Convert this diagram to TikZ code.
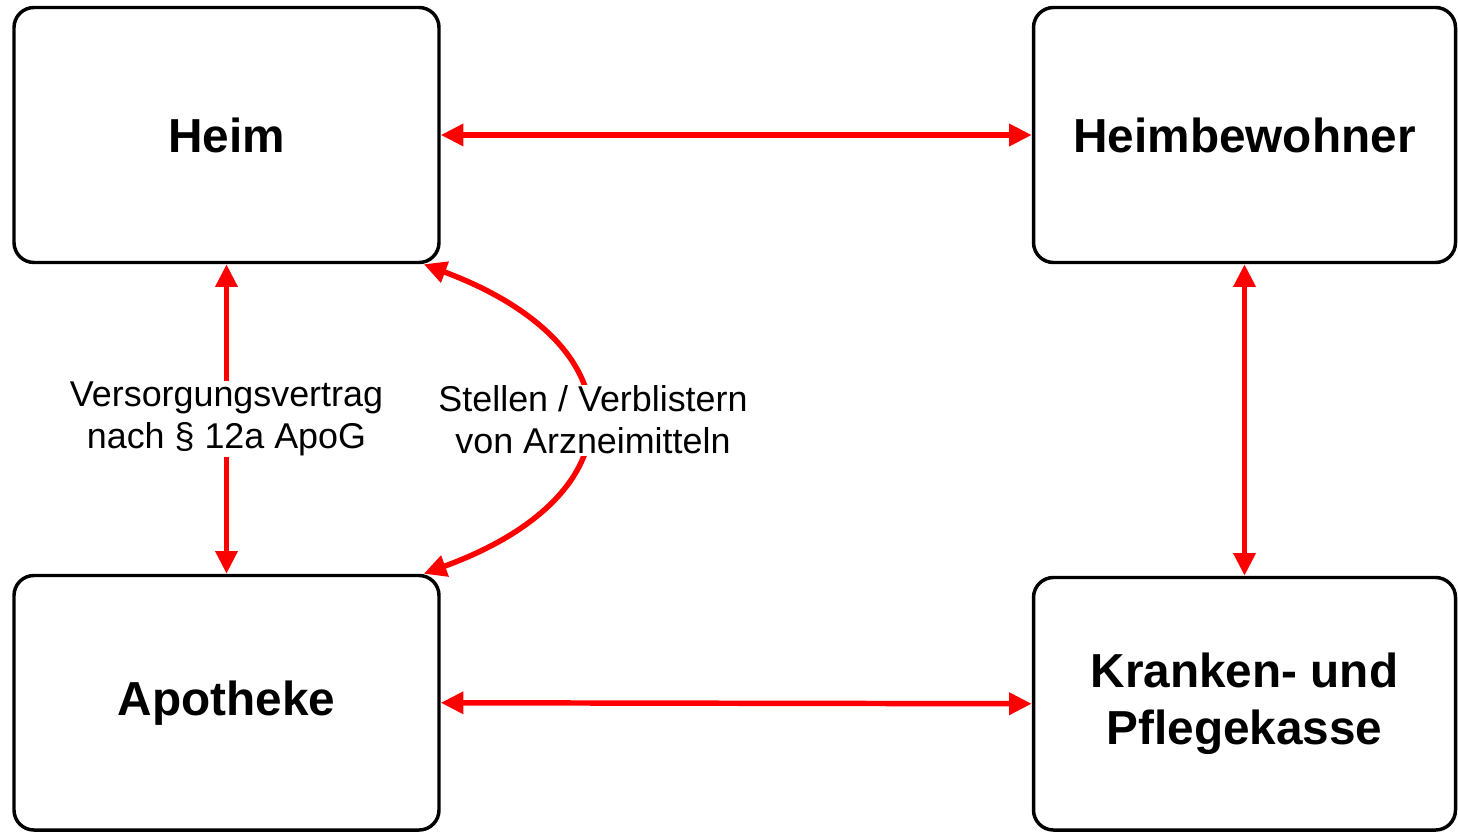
\documentclass[tikz,border=0pt]{standalone}
\usepackage{fontspec}
\setmainfont{Liberation Sans}
\usetikzlibrary{arrows.meta,calc}
\begin{document}
\begin{tikzpicture}[x=0.75pt,y=-0.75pt,
  box/.style={draw=black,line width=2.6pt,rounded corners=15pt,align=center,
    font=\fontsize{35.8}{43.5}\selectfont\bfseries,inner sep=0pt},
  arr/.style={draw=red,line width=4.1pt,
    {Triangle[length=17pt,width=16pt]}-{Triangle[length=17pt,width=16pt]}},
  lab/.style={fill=white,align=center,inner sep=1pt,
    font=\fontsize{26.9}{31.5}\selectfont}]
\useasboundingbox (0,0) rectangle (1458,832);
\node[box,minimum width=318.75pt,minimum height=191.25pt] (heim) at (226.5,135) {Heim};
\node[box,minimum width=316.5pt,minimum height=191.25pt] (bew) at (1244.5,135) {Heimbewohner};
\node[box,minimum width=318.75pt,minimum height=190.9pt] (apo) at (226.5,702.75) {Apotheke};
\node[box,minimum width=316.5pt,minimum height=189.4pt] (kk) at (1244.5,703.75) {Kranken- und\\Pflegekasse};
\draw[arr] (heim.east) -- (bew.west);
\draw[arr] (apo.east) -- (kk.west);
\draw[arr] (bew.south) -- (kk.north);
\draw[arr] (heim.south) -- node[lab] (vv) {Versorgungsvertrag\\nach § 12a ApoG} (apo.north);
\draw[arr] ([xshift=-12.75pt]heim.south east) .. controls (640,345) and (640,495) .. ([xshift=-12.75pt]apo.north east);
\node[lab] (sv) at (593,420) {Stellen / Verblistern\\von Arzneimitteln};
\end{tikzpicture}
\end{document}
